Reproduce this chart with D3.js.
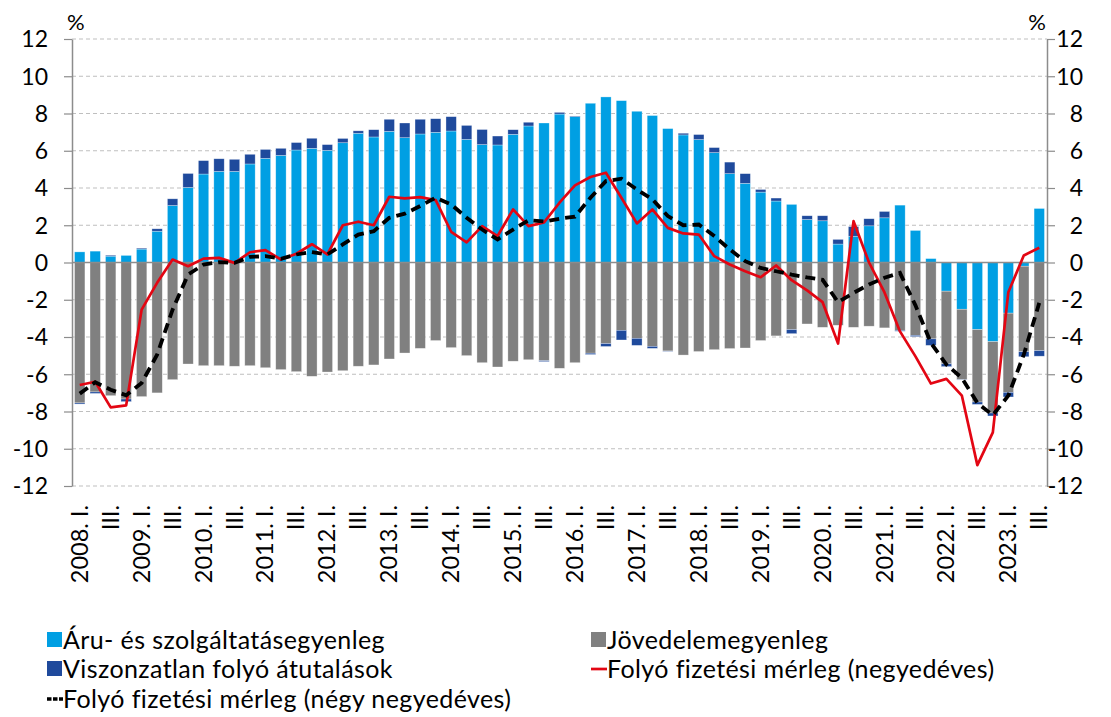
<!DOCTYPE html>
<html><head><meta charset="utf-8">
<script src="https://cdn.jsdelivr.net/npm/d3@7"></script>
<style>
html,body{margin:0;padding:0;background:#fff;}
svg{display:block;font-family:Lato,"Open Sans",sans-serif;}
</style></head><body>
<svg id="chart" width="1111" height="717"></svg>
<script>
// ---- data (percent of GDP), 2008 Q1 .. 2023 Q3 ----
const years = d3.range(2008, 2024);
const quarterNames = ["I.", "II.", "III.", "IV."];
const goods = [0.57,0.61,0.34,0.38,0.72,1.68,3.06,4.03,4.75,4.89,4.89,5.29,5.59,5.75,6.04,6.13,6.02,6.43,6.94,6.74,7.04,6.70,6.90,6.99,7.06,6.61,6.33,6.31,6.88,7.33,7.49,7.97,7.83,8.55,8.89,8.69,8.12,7.89,7.19,6.85,6.60,5.90,4.77,4.25,3.78,3.30,3.12,2.31,2.24,0.99,1.41,1.97,2.40,3.08,1.72,0.21,-1.54,-2.51,-3.60,-4.25,-2.72,-0.20,2.90];
const income = [-7.54,-6.95,-7.15,-7.33,-7.20,-7.00,-6.29,-5.45,-5.54,-5.54,-5.57,-5.54,-5.65,-5.75,-5.86,-6.11,-5.88,-5.81,-5.57,-5.50,-5.18,-4.86,-4.61,-4.19,-4.57,-5.00,-5.38,-5.61,-5.30,-5.22,-5.27,-5.68,-5.38,-4.87,-4.35,-3.64,-4.07,-4.50,-4.75,-4.97,-4.78,-4.68,-4.62,-4.59,-4.19,-3.94,-3.60,-3.30,-3.48,-3.37,-3.48,-3.42,-3.51,-3.64,-3.91,-4.10,-3.90,-3.78,-3.89,-3.83,-4.25,-4.59,-4.73];
const transfers = [-0.06,-0.08,0.05,-0.14,0.05,0.13,0.36,0.75,0.72,0.68,0.65,0.52,0.48,0.38,0.40,0.54,0.31,0.23,0.13,0.39,0.65,0.79,0.79,0.73,0.77,0.75,0.81,0.48,0.25,0.20,-0.05,0.09,0.03,-0.07,-0.16,-0.52,-0.38,-0.11,-0.02,0.09,0.27,0.27,0.62,0.52,0.14,0.16,-0.22,0.20,0.27,0.25,0.52,0.38,0.34,-0.05,-0.07,-0.35,-0.15,-0.02,-0.13,-0.16,-0.25,-0.27,-0.30];
const caQuarterly = [-6.58,-6.40,-7.78,-7.67,-2.53,-1.09,0.16,-0.20,0.21,0.25,-0.02,0.55,0.66,0.16,0.47,0.98,0.43,2.00,2.19,2.00,3.53,3.44,3.51,3.35,1.65,1.08,1.95,1.42,2.85,1.95,2.15,3.21,4.14,4.59,4.82,3.48,2.10,2.85,1.86,1.56,1.50,0.34,-0.11,-0.47,-0.79,-0.16,-0.95,-1.50,-2.13,-4.35,2.22,0.00,-1.61,-3.70,-5.04,-6.50,-6.25,-7.15,-10.88,-9.12,-1.60,0.38,0.79];
const caFourQuarter = [-7.04,-6.43,-6.83,-7.13,-6.47,-4.95,-2.53,-0.65,-0.11,0.02,-0.02,0.30,0.34,0.20,0.43,0.56,0.43,0.97,1.50,1.68,2.40,2.62,3.03,3.48,3.12,2.40,1.77,1.24,1.77,2.27,2.20,2.35,2.46,3.48,4.37,4.50,3.92,3.39,2.49,2.00,2.04,1.42,0.70,0.07,-0.29,-0.47,-0.65,-0.80,-0.93,-2.13,-1.63,-1.18,-0.82,-0.56,-2.30,-4.32,-5.48,-6.20,-7.54,-8.20,-7.15,-4.95,-2.17];
const yTicks = [-12,-10,-8,-6,-4,-2,0,2,4,6,8,10,12];
const seriesNames = ["Áru- és szolgáltatásegyenleg","Jövedelemegyenleg","Viszonzatlan folyó átutalások","Folyó fizetési mérleg (negyedéves)","Folyó fizetési mérleg (négy negyedéves)"];
const colors = {goods:"#009FE3", income:"#808080", transfers:"#1F4A9C", caQ:"#E30613", ca4Q:"#000000"};

// categories
const categories = [];
years.forEach(y => quarterNames.forEach((q, k) => categories.push({year:y, q:k})));
const n = goods.length;
const cats = categories.slice(0, n);
const catLabel = c => c.q === 0 ? c.year + ". I." : (c.q === 2 ? "III." : "");

const rows = cats.map((c, i) => ({i, goods:goods[i], income:income[i], transfers:transfers[i]}));

// ---- layout ----
const svg = d3.select("#chart");
const X0 = 72, X1 = 1047, Y0 = 39, Y1 = 486;
const x = d3.scaleBand().domain(d3.range(n)).range([X0, X1]).paddingInner(0.33).paddingOuter(0.165);
const y = d3.scaleLinear().domain([-12, 12]).range([Y1, Y0]);

// gridlines
svg.append("g").selectAll("line").data(yTicks.filter(t => t !== 0)).join("line")
  .attr("x1", X0).attr("x2", X1).attr("y1", d => y(d)).attr("y2", d => y(d))
  .attr("stroke", "#bfbfbf").attr("stroke-width", 1).attr("stroke-dasharray", "4,3");

// stacked bars
const stack = d3.stack().keys(["goods","income","transfers"]).offset(d3.stackOffsetDiverging);
const stacked = stack(rows);
svg.append("g").selectAll("g").data(stacked).join("g")
  .attr("fill", d => colors[d.key])
  .selectAll("rect").data(d => d).join("rect")
  .attr("x", d => x(d.data.i))
  .attr("width", x.bandwidth())
  .attr("y", d => y(Math.max(d[0], d[1])))
  .attr("height", d => Math.abs(y(d[0]) - y(d[1])))
  .attr("stroke", "#ffffff").attr("stroke-opacity", 0.5).attr("stroke-width", 0.6);

// zero line
svg.append("line").attr("x1", X0).attr("x2", X1).attr("y1", y(0)).attr("y2", y(0))
  .attr("stroke", "#8c8c8c").attr("stroke-width", 1.5);

// lines
const cx = i => x(i) + x.bandwidth() / 2;
const line = d3.line().x((d, i) => cx(i)).y(d => y(d));
svg.append("path").datum(caQuarterly).attr("d", line)
  .attr("fill", "none").attr("stroke", colors.caQ).attr("stroke-width", 2.7).attr("stroke-linejoin", "round");
svg.append("path").datum(caFourQuarter).attr("d", line)
  .attr("fill", "none").attr("stroke", colors.ca4Q).attr("stroke-width", 3.8).attr("stroke-dasharray", "10,6");

// axes
const axisColor = "#8c8c8c";
const gl = svg.append("g").attr("transform", `translate(${X0},0)`)
  .call(d3.axisLeft(y).tickValues(yTicks).tickSize(8).tickSizeOuter(0).tickFormat(d3.format("d")));
const gr = svg.append("g").attr("transform", `translate(${X1},0)`)
  .call(d3.axisRight(y).tickValues(yTicks).tickSize(8).tickSizeOuter(0).tickFormat(d3.format("d")));
[gl, gr].forEach(g => {
  g.attr("font-size", 23).attr("font-family", "Lato, sans-serif");
  g.select(".domain").attr("stroke", axisColor).attr("stroke-width", 1.5);
  g.selectAll(".tick line").attr("stroke", axisColor).attr("stroke-width", 1.2);
  g.selectAll(".tick text").attr("fill", "#000").attr("dy", "0.34em");
});
gl.selectAll(".tick text").attr("x", -24).attr("text-anchor", "end");
gr.selectAll(".tick text").attr("x", 36).attr("text-anchor", "end");
svg.selectAll(".tick text").text(d => d3.format("d")(d).replace("−", "-"));

// % labels
svg.append("text").attr("x", 67).attr("y", 30).attr("font-size", 22).text("%");
svg.append("text").attr("x", 1046).attr("y", 30).attr("font-size", 22).attr("text-anchor", "end").text("%");

// category labels
svg.append("g").selectAll("text").data(cats).join("text")
  .attr("transform", (d, i) => `translate(${cx(i) + 8},${Y1 + 19}) rotate(-90)`)
  .attr("text-anchor", "end").attr("font-size", 23.5)
  .text(d => catLabel(d));

// legend
const lg = svg.append("g").attr("font-size", 25).attr("letter-spacing", 0.4);
const legendItems = [
  {name:seriesNames[0], type:"rect", color:colors.goods, x:47, y:640},
  {name:seriesNames[1], type:"rect", color:colors.income, x:591, y:640},
  {name:seriesNames[2], type:"rect", color:colors.transfers, x:47, y:669},
  {name:seriesNames[3], type:"line", color:colors.caQ, x:591, y:669},
  {name:seriesNames[4], type:"dash", color:colors.ca4Q, x:47, y:699}
];
legendItems.forEach(it => {
  if (it.type === "rect") {
    lg.append("rect").attr("x", it.x).attr("y", it.y - 8).attr("width", 15).attr("height", 15).attr("fill", it.color);
  } else if (it.type === "line") {
    lg.append("line").attr("x1", it.x).attr("x2", it.x + 16).attr("y1", it.y).attr("y2", it.y)
      .attr("stroke", it.color).attr("stroke-width", 2.7);
  } else {
    lg.append("line").attr("x1", it.x).attr("x2", it.x + 16).attr("y1", it.y).attr("y2", it.y)
      .attr("stroke", it.color).attr("stroke-width", 3.6).attr("stroke-dasharray", "4.5,1.5");
  }
  lg.append("text").attr("x", it.x + 16).attr("y", it.y + 8.5).text(it.name);
});
</script>
</body></html>
